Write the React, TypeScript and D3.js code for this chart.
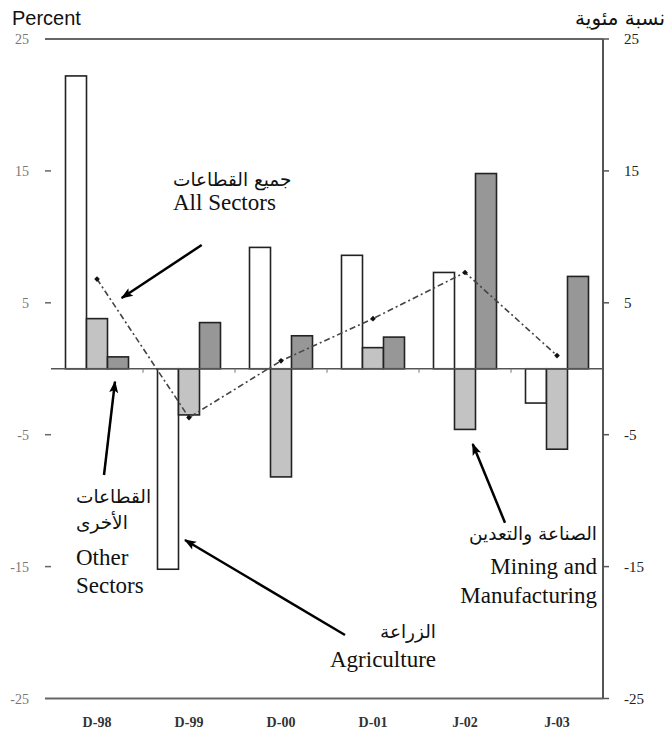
import React from "react";
import * as d3 from "d3";

const categories = ["D-98", "D-99", "D-00", "D-01", "J-02", "J-03"];
const agriculture = [22.2, -15.2, 9.2, 8.6, 7.3, -2.6];
const otherSectors = [3.8, -3.5, -8.2, 1.6, -4.6, -6.1];
const miningManufacturing = [0.9, 3.5, 2.5, 2.4, 14.8, 7.0];
const allSectors = [6.8, -3.7, 0.6, 3.8, 7.3, 1.0];
const tickValues = [25, 15, 5, -5, -15, -25];
const seriesKeys = ["agriculture", "other", "mining"];
const seriesFill: Record<string, string> = { agriculture: "#ffffff", other: "#c3c3c3", mining: "#979797" };

const W = 668;
const H = 743;
const serif = "'Liberation Serif', 'Times New Roman', serif";
const sans = "'Liberation Sans', Arial, sans-serif";
const arabic = "'DejaVu Sans', sans-serif";

export default function App() {
  const x = d3.scaleBand<string>().domain(categories).range([51, 603]).paddingInner(0).paddingOuter(0);
  const groupW = 63;
  const xs = d3.scaleBand<string>().domain(seriesKeys).range([0, groupW]);
  const y = d3.scaleLinear().domain([-25, 25]).range([698.5, 39]);
  const y0 = y(0);
  const cx = (c: string) => (x(c) as number) + x.bandwidth() / 2;

  const data: Record<string, number[]> = { agriculture, other: otherSectors, mining: miningManufacturing };

  const line = d3
    .line<number>()
    .x((_, i) => cx(categories[i]))
    .y((d) => y(d));

  const arrows = [
    { x1: 201.7, y1: 245, x2: 121.7, y2: 298 },
    { x1: 104, y1: 475, x2: 115, y2: 381.7 },
    { x1: 345, y1: 635, x2: 185, y2: 540 },
    { x1: 505, y1: 522.7, x2: 472.7, y2: 444 },
  ];

  return (
    <svg width={W} height={H} style={{ position: "absolute", left: 0, top: 0, background: "#fff" }}>
      <defs>
        <marker id="ah" viewBox="0 0 12 10" refX="11" refY="5" markerUnits="userSpaceOnUse" markerWidth="13" markerHeight="10" orient="auto">
          <path d="M0,0.5 L12,5 L0,9.5 L2.5,5 Z" fill="#000" />
        </marker>
      </defs>

      {/* frame */}
      <line x1={45} x2={603} y1={y(25)} y2={y(25)} stroke="#666" strokeWidth={2} />
      <line x1={45} x2={603} y1={y(-25)} y2={y(-25)} stroke="#666" strokeWidth={2} />
      <line x1={603} x2={603} y1={y(25)} y2={y(-25)} stroke="#555" strokeWidth={2} />

      {/* left ticks & labels */}
      {tickValues.map((t) => (
        <g key={"l" + t}>
          {t !== 25 && t !== -25 && <line x1={45} x2={51} y1={y(t)} y2={y(t)} stroke="#666" strokeWidth={1.5} />}
          <text x={29} y={y(t) + 5} textAnchor="end" fontFamily={serif} fontSize={14} fill="#777">
            {t}
          </text>
        </g>
      ))}

      {/* right ticks & labels */}
      {tickValues.map((t) => (
        <g key={"r" + t}>
          <line x1={603} x2={609} y1={y(t)} y2={y(t)} stroke="#555" strokeWidth={1.5} />
          <text x={624} y={y(t) + 5} textAnchor="start" fontFamily={serif} fontSize={15} fill="#222">
            {t}
          </text>
        </g>
      ))}

      {/* bars */}
      {categories.map((c, i) => (
        <g key={c} transform={`translate(${cx(c) - groupW / 2},0)`}>
          {seriesKeys.map((k) => {
            const v = data[k][i];
            const top = Math.min(y(v), y0);
            const h = Math.abs(y(v) - y0);
            return (
              <rect
                key={k}
                x={xs(k) as number}
                y={top}
                width={xs.bandwidth()}
                height={h}
                fill={seriesFill[k]}
                stroke="#222"
                strokeWidth={1.6}
              />
            );
          })}
        </g>
      ))}

      {/* zero line */}
      <line x1={51} x2={603} y1={y0} y2={y0} stroke="#555" strokeWidth={1.6} />
      {categories.slice(1).map((c) => (
        <line key={"xt" + c} x1={x(c) as number} x2={x(c) as number} y1={y0} y2={y0 + 4} stroke="#777" strokeWidth={1} />
      ))}

      {/* all sectors line */}
      <path d={line(allSectors) as string} fill="none" stroke="#444" strokeWidth={1.6} strokeDasharray="6,3,2,3" />
      {allSectors.map((v, i) => (
        <rect key={"m" + i} x={cx(categories[i]) - 2} y={y(v) - 2} width={4} height={4} fill="#111" transform={`rotate(45 ${cx(categories[i])} ${y(v)})`} />
      ))}

      {/* category labels */}
      {categories.map((c) => (
        <text key={"cl" + c} x={cx(c)} y={727} textAnchor="middle" fontFamily={serif} fontSize={14} fontWeight="bold" fill="#333">
          {c}
        </text>
      ))}

      {/* axis titles */}
      <text x={12} y={25} fontFamily={sans} fontSize={20} fill="#111">
        Percent
      </text>
      <text x={665} y={25} textAnchor="end" fontFamily={arabic} fontSize={20} fill="#111">
        نسبة مئوية
      </text>

      {/* arrows */}
      {arrows.map((a, i) => (
        <line key={"a" + i} x1={a.x1} y1={a.y1} x2={a.x2} y2={a.y2} stroke="#000" strokeWidth={2.5} markerEnd="url(#ah)" />
      ))}

      {/* annotations */}
      <g fontFamily={arabic} fontSize={18.5} fill="#111">
        <text x={173} y={186}>جميع القطاعات</text>
        <text x={76} y={503}>القطاعات</text>
        <text x={76} y={529}>الأخرى</text>
        <text x={597} y={540} textAnchor="end">الصناعة والتعدين</text>
        <text x={436} y={638} textAnchor="end">الزراعة</text>
      </g>
      <g fontFamily={serif} fontSize={23} fill="#111">
        <text x={173} y={210}>All Sectors</text>
        <text x={76} y={565}>Other</text>
        <text x={76} y={593}>Sectors</text>
        <text x={597} y={574} textAnchor="end">Mining and</text>
        <text x={597} y={603} textAnchor="end">Manufacturing</text>
        <text x={436} y={667} textAnchor="end">Agriculture</text>
      </g>
    </svg>
  );
}
